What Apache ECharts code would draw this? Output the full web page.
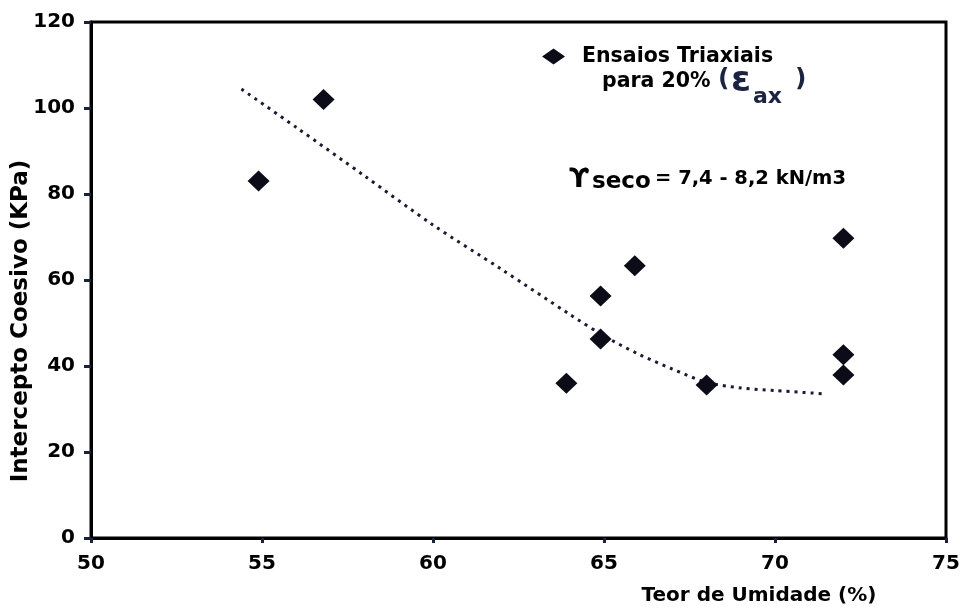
<!DOCTYPE html>
<html>
<head>
<meta charset="utf-8">
<script src="https://cdn.jsdelivr.net/npm/echarts@6/dist/echarts.min.js"></script>
<style>
html,body{margin:0;padding:0;background:#fff;}
#chart{width:966px;height:611px;}
</style>
</head>
<body>
<div id="chart"></div>
<script>
// Data
const moisture = [54.9, 56.8, 63.9, 64.9, 64.9, 65.9, 68.0, 72.0, 72.0, 72.0];
const cohesion = [83.0, 102.0, 36.0, 56.3, 46.3, 63.3, 35.6, 69.7, 42.6, 37.9];
const trendX = [54.4, 56, 58, 60, 62, 64, 65, 66, 67, 68, 69, 70, 71.5];
const trendY = [104.4, 95.5, 84.2, 72.8, 62.5, 52.0, 47.0, 42.8, 39.3, 36.2, 34.9, 34.3, 33.5];
const xTicks = [50, 55, 60, 65, 70, 75];
const yTicks = [0, 20, 40, 60, 80, 100, 120];
const seriesName = 'Ensaios Triaxiais';
const xTitle = 'Teor de Umidade (%)';
const yTitle = 'Intercepto Coesivo (KPa)';

const FONT = 'DejaVu Sans';
const INK = '#0c0c18';
const scatterData = moisture.map((x, i) => [x, cohesion[i]]);
const trendData = trendX.map((x, i) => [x, trendY[i]]);

const chart = echarts.init(document.getElementById('chart'), null, {renderer: 'canvas'});
chart.setOption({
  backgroundColor: '#ffffff',
  animation: false,
  grid: {left: 91, right: 20, top: 22, bottom: 73, outerBoundsMode: 'none', containLabel: false,
         show: true, borderColor: '#000', borderWidth: 3, backgroundColor: 'transparent'},
  legend: {
    data: [seriesName],
    left: 537, top: 41,
    icon: 'diamond',
    itemWidth: 23, itemHeight: 16,
    itemStyle: {opacity: 1},
    textStyle: {fontFamily: FONT, fontWeight: 'bold', fontSize: 20.5, color: '#000', padding: [0, 0, 0, 12]}
  },
  xAxis: {
    type: 'value', min: xTicks[0], max: xTicks[xTicks.length - 1], interval: 5,
    name: xTitle, nameLocation: 'middle', nameGap: 48, nameMoveOverlap: false,
    nameTextStyle: {fontFamily: FONT, fontWeight: 'bold', fontSize: 20, color: '#000', padding: [0, 0, 0, 481]},
    axisLine: {show: true, lineStyle: {color: '#000', width: 3}},
    axisTick: {show: true, length: 5, lineStyle: {color: '#1a2238', width: 3}},
    axisLabel: {fontFamily: FONT, fontWeight: 'bold', fontSize: 20, color: '#000', margin: 16},
    splitLine: {show: false}
  },
  yAxis: {
    type: 'value', min: yTicks[0], max: yTicks[yTicks.length - 1], interval: 20,
    name: yTitle, nameLocation: 'middle', nameGap: 58, nameMoveOverlap: false,
    nameTextStyle: {fontFamily: FONT, fontWeight: 'bold', fontSize: 23, color: '#000', padding: [0, 82, 0, 0]},
    axisLine: {show: true, lineStyle: {color: '#000', width: 3}},
    axisTick: {show: true, length: 7, lineStyle: {color: '#1a2238', width: 3}},
    axisLabel: {fontFamily: FONT, fontWeight: 'bold', fontSize: 20, color: '#000', margin: 16},
    splitLine: {show: false}
  },
  series: [
    {
      name: 'Tendência', type: 'line', data: trendData, smooth: 0.3,
      showSymbol: false, symbol: 'none', silent: true,
      lineStyle: {color: '#1a1a30', width: 3, type: [3, 5]},
      z: 2
    },
    {
      name: seriesName, type: 'scatter', data: scatterData,
      symbol: 'diamond', symbolSize: [22, 21],
      itemStyle: {color: INK, opacity: 1},
      z: 3
    }
  ],
  graphic: [
    {type: 'text', left: 602, top: 71, style: {text: 'para 20%', fontFamily: FONT, fontWeight: 'bold', fontSize: 20.5, fill: '#000'}},
    {type: 'text', left: 718, top: 67, style: {text: '(', fontFamily: FONT, fontWeight: 'bold', fontSize: 25, fill: '#1c2340'}},
    {type: 'text', left: 731, top: 64, style: {text: 'ε', fontFamily: FONT, fontWeight: 'bold', fontSize: 36, fill: '#1c2340'}},
    {type: 'text', left: 753, top: 86, style: {text: 'ax', fontFamily: FONT, fontWeight: 'bold', fontSize: 22, fill: '#1c2340'}},
    {type: 'text', left: 795, top: 67, style: {text: ')', fontFamily: FONT, fontWeight: 'bold', fontSize: 25, fill: '#1c2340'}},
    {type: 'text', left: 569, top: 166, style: {text: 'ϒ', fontFamily: FONT, fontWeight: 'bold', fontSize: 27, fill: '#000'}},
    {type: 'text', left: 592, top: 171, style: {text: 'seco', fontFamily: FONT, fontWeight: 'bold', fontSize: 23, fill: '#000'}},
    {type: 'text', left: 655, top: 169, style: {text: '= 7,4 - 8,2 kN/m3', fontFamily: FONT, fontWeight: 'bold', fontSize: 19.5, fill: '#000'}}
  ]
});
</script>
</body>
</html>
